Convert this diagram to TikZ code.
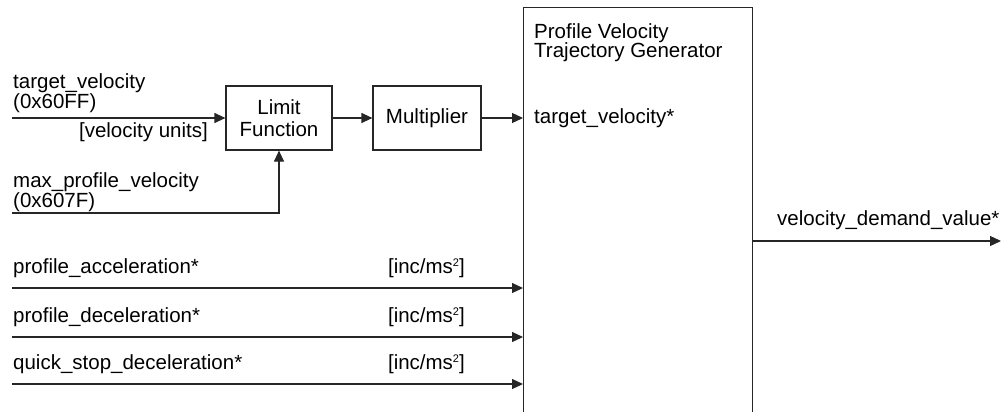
\documentclass[tikz,border=0pt]{standalone}
\usepackage{fontspec}
\setmainfont{Liberation Sans}
\usetikzlibrary{arrows.meta}

\newcommand\sqsup{\raisebox{7pt}{\fontsize{11}{11}\selectfont 2}}

\tikzset{
  blk/.style={draw=black!85, line width=1.2pt, minimum width=106pt, minimum height=64pt,
    align=center, inner sep=0pt},
  sig/.style={draw=black!85, line width=1.2pt, -{Triangle[length=11pt,width=10pt]}},
  lbl/.style={anchor=base west, inner sep=0pt, align=left},
  unit/.style={anchor=base east, inner sep=0pt},
}

\begin{document}
\begin{tikzpicture}[x=1pt,y=-1pt,font=\fontsize{20.5}{20}\selectfont]
\useasboundingbox (0,0) rectangle (1006,412);
\clip (0,0) rectangle (1006,412);

% blocks
\node[blk] (limit) at (279,118) {Limit\\[2pt]Function};
\node[blk, minimum width=108pt] (mult) at (427,118) {Multiplier};
\node[draw=black!85, line width=1.2pt, minimum width=229pt, minimum height=440pt,
  anchor=north west, inner sep=0pt] (gen) at (523,7) {};
\node[lbl] (gentitle) at (534,58) {Profile Velocity\\Trajectory Generator};
\node[lbl] (gentv) at (534,123) {target\_velocity*};

% target velocity input
\coordinate (tvin) at (12,118);
\node[lbl] (tvlbl) at (13,108) {target\_velocity\\(0x60FF)};
\node[unit] (tvunit) at (208,137) {[velocity units]};
\draw[sig] (tvin) -- (limit.west);
\draw[sig] (limit.east) -- (mult.west);
\draw[sig] (mult.east) -- (mult.east -| gen.west);

% max profile velocity
\coordinate (mpin) at (12,213);
\node[lbl] (mplbl) at (13,207) {max\_profile\_velocity\\(0x607F)};
\draw[sig] (mpin) -| (limit.south);

% acceleration inputs
\foreach \y/\name [count=\i] in {288/profile\_acceleration*,
    337/profile\_deceleration*, 384/quick\_stop\_deceleration*}
{
  \coordinate (acc\i) at (12,\y);
  \node[lbl] (acclbl\i) at (13,\y-14.5) {\name};
  \node[unit] (accunit\i) at (465,\y-14.5) {[inc/ms\sqsup]};
  \draw[sig] (acc\i) -- (acc\i -| gen.west);
}

% output
\coordinate (out) at (1001,241);
\node[lbl] (outlbl) at (777,225) {velocity\_demand\_value*};
\draw[sig] (out -| gen.east) -- (out);
\end{tikzpicture}
\end{document}
